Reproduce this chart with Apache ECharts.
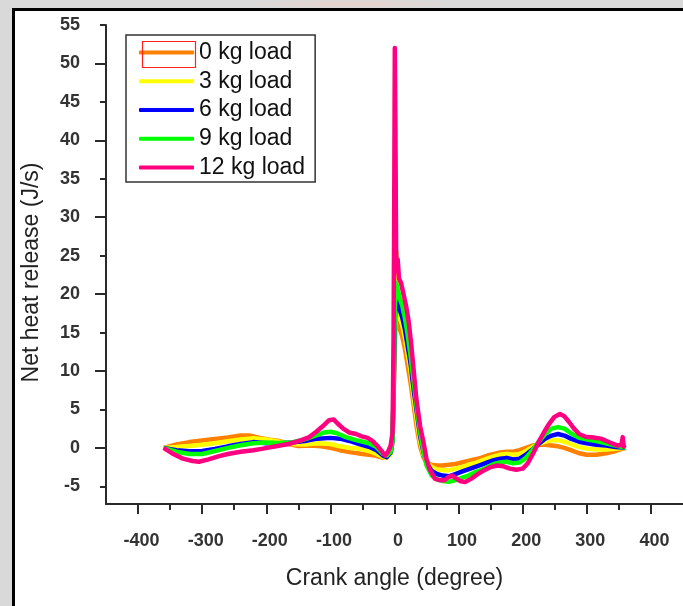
<!DOCTYPE html>
<html>
<head>
<meta charset="utf-8">
<script src="https://cdn.jsdelivr.net/npm/echarts@6/dist/echarts.min.js"></script>
<style>
  html, body { margin: 0; padding: 0; width: 683px; height: 606px; overflow: hidden; background: #d9d9d9; }
  #sheet { position: absolute; left: 12px; top: 8px; width: 720px; height: 640px; background: #fff;
           border-left: 3px solid #000; border-top: 3px solid #000; }
  #glow { position: absolute; left: 240px; top: 0; width: 220px; height: 8px;
          background: radial-gradient(ellipse at center, rgba(250,205,190,0.55) 0%, rgba(217,217,217,0) 70%); }
  #chart { position: absolute; left: 0; top: 0; width: 683px; height: 606px; }
</style>
</head>
<body>
<div id="glow"></div>
<div id="sheet"></div>
<div id="chart"></div>
<script>
// Net heat release vs crank angle, one curve per engine load.
const seriesNames = ['0 kg load', '3 kg load', '6 kg load', '9 kg load', '12 kg load'];
const seriesColors = ['#ff8000', '#ffff00', '#0000ff', '#00ff00', '#ff0080'];

// [crank angle (deg), net heat release (J/s)]
const load0 = [[-360,0],[-340,0.45],[-320,0.75],[-300,0.95],[-280,1.15],[-260,1.35],[-240,1.6],[-225,1.6],[-210,1.3],[-195,1.05],[-180,0.9],[-165,0.5],[-150,0.25],[-130,0.3],[-115,0.2],[-100,0.0],[-85,-0.3],[-70,-0.55],[-50,-0.8],[-30,-1.0],[-18,-1.3],[-10,-0.9],[-5,-0.3],[-3,1],[-1,8],[0.5,14],[2,16.7],[4,16.3],[8,15.5],[12,14.5],[16,13],[20,11],[25,8.5],[30,5.5],[35,2.5],[40,0.2],[45,-1.2],[50,-1.9],[58,-2.2],[66,-2.3],[75,-2.3],[85,-2.2],[95,-2.1],[105,-1.9],[115,-1.7],[125,-1.5],[135,-1.3],[145,-1.0],[155,-0.8],[165,-0.6],[175,-0.5],[185,-0.5],[195,-0.3],[205,0.0],[215,0.3],[225,0.4],[235,0.4],[245,0.3],[255,0.2],[265,0.0],[275,-0.3],[288,-0.7],[300,-0.9],[315,-0.9],[330,-0.7],[345,-0.4],[360,0]];

const load3 = [[-360,0],[-340,0.1],[-320,0.25],[-300,0.4],[-280,0.6],[-260,0.85],[-240,1.1],[-220,1.25],[-200,1.1],[-180,0.8],[-160,0.5],[-140,0.45],[-120,0.6],[-100,0.5],[-85,0.2],[-70,0.0],[-55,-0.1],[-40,-0.4],[-28,-0.8],[-18,-1.2],[-12,-1.3],[-6,-0.8],[-3,1],[-1,9],[0.5,15],[2,17.5],[3,25.5],[4,18],[8,17],[12,16],[16,14.5],[20,12.5],[25,10],[30,6.5],[35,3.5],[40,0.8],[45,-0.8],[50,-1.8],[58,-2.5],[66,-2.8],[75,-2.9],[85,-2.9],[95,-2.7],[105,-2.5],[115,-2.2],[125,-2.0],[135,-1.7],[145,-1.4],[155,-1.1],[165,-0.9],[175,-0.8],[185,-0.9],[195,-0.8],[205,-0.4],[215,0.1],[225,0.5],[235,0.8],[245,1.0],[255,1.0],[265,0.8],[275,0.5],[288,0.1],[300,-0.1],[315,-0.2],[330,-0.2],[345,-0.1],[360,0]];

const load6 = [[-360,0],[-340,-0.3],[-320,-0.45],[-300,-0.4],[-280,-0.15],[-260,0.2],[-240,0.5],[-220,0.75],[-200,0.6],[-180,0.6],[-160,0.7],[-140,0.9],[-120,1.2],[-100,1.3],[-85,1.2],[-70,0.9],[-55,0.5],[-40,0.15],[-28,-0.3],[-18,-1.0],[-12,-1.2],[-6,-0.6],[-3,1],[-1,9],[0.5,16],[2,19.5],[4,19],[8,18],[12,17],[16,15.5],[20,13.5],[25,11],[30,7.5],[35,4.5],[40,1.5],[45,-0.5],[50,-2.0],[58,-3.0],[66,-3.4],[75,-3.6],[85,-3.7],[95,-3.4],[105,-3.1],[115,-2.8],[125,-2.5],[135,-2.2],[145,-1.9],[155,-1.6],[165,-1.4],[175,-1.3],[185,-1.5],[195,-1.4],[205,-0.9],[215,-0.2],[225,0.5],[235,1.2],[245,1.6],[255,1.8],[265,1.6],[275,1.2],[288,0.8],[300,0.6],[315,0.4],[330,0.3],[345,0.1],[360,0]];

const load9 = [[-360,0],[-340,-0.5],[-320,-0.8],[-300,-0.8],[-280,-0.4],[-260,0],[-240,0.35],[-220,0.6],[-200,0.7],[-180,0.65],[-160,0.7],[-140,1.1],[-120,1.7],[-110,2.0],[-100,2.1],[-90,1.9],[-76,1.4],[-60,1.0],[-40,0.6],[-28,0.1],[-18,-0.8],[-12,-1.0],[-6,-0.5],[-3,1],[-1,10],[0.5,18],[2,21.5],[4,21],[8,19.5],[12,18.5],[16,17],[20,15],[25,12],[30,8.5],[35,5],[40,2],[45,-0.3],[50,-2.3],[58,-3.6],[66,-4.1],[75,-4.3],[85,-4.4],[95,-4.2],[105,-3.9],[115,-3.6],[125,-3.2],[135,-2.9],[145,-2.5],[155,-2.1],[165,-1.9],[175,-1.8],[185,-2.0],[195,-1.9],[205,-1.3],[215,-0.3],[225,0.8],[235,1.8],[245,2.5],[255,2.7],[265,2.5],[275,1.9],[288,1.3],[300,1.1],[315,0.9],[330,0.6],[345,0.3],[360,0]];

const load12 = [[-360,0],[-345,-0.8],[-330,-1.4],[-315,-1.7],[-305,-1.8],[-290,-1.5],[-275,-1.1],[-260,-0.8],[-240,-0.5],[-220,-0.3],[-205,-0.1],[-185,0.2],[-165,0.5],[-145,1.0],[-133,1.4],[-122,2.1],[-112,2.8],[-102,3.6],[-95,3.7],[-88,3.1],[-80,2.5],[-71,2.0],[-60,1.8],[-51,1.5],[-42,1.3],[-35,0.95],[-27,0.3],[-20,-0.4],[-15,-1.0],[-10,-0.5],[-6,0.3],[-3,2],[-1.5,14],[-0.5,30],[0.5,52],[1.5,40],[2.5,26],[3.5,23],[5,24.5],[7,22],[10,21.5],[14,20],[18,18.5],[22,16.5],[26,13.5],[30,10],[34,6.4],[40,2.8],[45,0.8],[50,-1.5],[55,-2.8],[63,-4.0],[70,-4.2],[78,-4.2],[84,-3.8],[90,-3.6],[95,-3.9],[102,-4.3],[110,-4.45],[120,-4.0],[130,-3.4],[140,-2.9],[150,-2.5],[160,-2.3],[170,-2.4],[180,-2.7],[190,-2.85],[200,-2.7],[208,-2.0],[217,-0.6],[225,0.8],[233,2.0],[241,3.1],[249,4.0],[258,4.4],[265,4.1],[272,3.4],[280,2.5],[288,1.8],[298,1.45],[310,1.35],[322,1.2],[336,0.7],[348,0.3],[354,0.4],[356,1.4],[357.5,0.2],[360,0]];

const seriesData = [load0, load3, load6, load9, load12];

// Axis ticks
const xMajorTicks = [-400, -300, -200, -100, 0, 100, 200, 300, 400];
const xMinorTicks = [-350, -250, -150, -50, 50, 150, 250, 350];
const yTicks = [-5, 0, 5, 10, 15, 20, 25, 30, 35, 40, 45, 50, 55];
const yLongTicks = [0, 10, 20, 30, 40, 50];

const FONT = '"Liberation Sans", Arial, sans-serif';
const AXIS_COLOR = '#2a2a2a';
const LABEL_COLOR = '#333';
const X_RANGE = [-450, 450];
const Y_RANGE = [-7.3, 55];

const chart = echarts.init(document.getElementById('chart'), null, { renderer: 'canvas' });

chart.setOption({
  animation: false,
  backgroundColor: 'transparent',
  grid: { left: 106, top: 25, right: -4, bottom: 102 },
  legend: {
    data: seriesNames,
    orient: 'vertical',
    left: 126,
    top: 35,
    padding: [3.5, 10, 0.5, 13],
    itemGap: 0.75,
    itemWidth: 55,
    itemHeight: 4,
    icon: 'roundRect',
    backgroundColor: '#fff',
    borderColor: '#333',
    borderWidth: 1.5,
    textStyle: { fontFamily: FONT, fontSize: 23, color: '#111', lineHeight: 28 }
  },
  graphic: [{
    type: 'rect',
    left: 140, top: 39,
    shape: { width: 53, height: 26 },
    style: { fill: 'none', stroke: '#ff2020', lineWidth: 1.2 },
    z: 100
  }],
  xAxis: [{
    type: 'value',
    position: 'bottom',
    min: X_RANGE[0], max: X_RANGE[1],
    name: 'Crank angle (degree)',
    nameLocation: 'middle',
    nameGap: 63,
    nameTextStyle: { fontFamily: FONT, fontSize: 23, color: '#222' },
    axisLine: { show: true, onZero: false, lineStyle: { color: AXIS_COLOR, width: 2 } },
    axisTick: { show: true, inside: false, length: 10, customValues: xMajorTicks,
                lineStyle: { color: AXIS_COLOR, width: 2 } },
    axisLabel: { customValues: xMajorTicks, margin: 28, padding: [0, 0, 0, 7],
                 fontFamily: FONT, fontSize: 18, fontWeight: 'bold', color: LABEL_COLOR },
    splitLine: { show: false }
  }, {
    type: 'value',
    position: 'bottom',
    min: X_RANGE[0], max: X_RANGE[1],
    axisLine: { show: false, onZero: false },
    axisTick: { show: true, length: 6, customValues: xMinorTicks,
                lineStyle: { color: AXIS_COLOR, width: 2 } },
    axisLabel: { show: false },
    splitLine: { show: false }
  }],
  yAxis: [{
    type: 'value',
    position: 'left',
    min: Y_RANGE[0], max: Y_RANGE[1],
    name: 'Net heat release (J/s)',
    nameLocation: 'middle',
    nameGap: 63,
    nameTextStyle: { fontFamily: FONT, fontSize: 23, color: '#222', padding: [0, 16, 0, 0] },
    axisLine: { show: true, onZero: false, lineStyle: { color: AXIS_COLOR, width: 2 } },
    axisTick: { show: true, length: 6, customValues: yTicks,
                lineStyle: { color: AXIS_COLOR, width: 2 } },
    axisLabel: { customValues: yTicks, margin: 26,
                 fontFamily: FONT, fontSize: 18, fontWeight: 'bold', color: LABEL_COLOR },
    splitLine: { show: false }
  }, {
    type: 'value',
    position: 'left',
    min: Y_RANGE[0], max: Y_RANGE[1],
    axisLine: { show: false, onZero: false },
    axisTick: { show: true, length: 11, customValues: yLongTicks,
                lineStyle: { color: AXIS_COLOR, width: 2 } },
    axisLabel: { show: false },
    splitLine: { show: false }
  }],
  series: seriesNames.map((name, i) => ({
    name: name,
    type: 'line',
    xAxisIndex: 0,
    yAxisIndex: 0,
    data: seriesData[i],
    showSymbol: false,
    symbol: 'none',
    smooth: false,
    lineStyle: { color: seriesColors[i], width: 4.5, join: 'round' },
    itemStyle: { color: seriesColors[i] },
    emphasis: { disabled: true }
  }))
});
</script>
</body>
</html>
